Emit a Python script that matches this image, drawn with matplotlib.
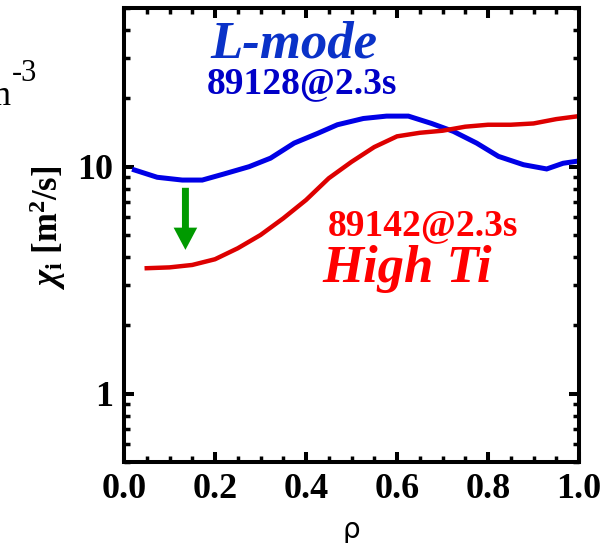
import matplotlib
matplotlib.use("Agg")
import matplotlib.pyplot as plt
from matplotlib.ticker import FixedLocator, FixedFormatter, LogLocator, NullFormatter, MultipleLocator

# Ion heat diffusivity profiles
rho_lmode = [0.023, 0.073, 0.128, 0.172, 0.22, 0.275, 0.322, 0.374, 0.425, 0.469,
             0.526, 0.577, 0.625, 0.676, 0.724, 0.775, 0.823, 0.878, 0.929, 0.965, 1.0]
chi_lmode = [9.67, 8.98, 8.73, 8.73, 9.29, 10.0, 10.9, 12.7, 14.0, 15.3,
             16.3, 16.7, 16.7, 15.5, 14.3, 12.7, 11.1, 10.2, 9.77, 10.35, 10.6]

rho_highti = [0.05, 0.10, 0.15, 0.20, 0.25, 0.30, 0.35, 0.40, 0.45, 0.50,
              0.55, 0.60, 0.65, 0.70, 0.75, 0.80, 0.85, 0.90, 0.95, 1.0]
chi_highti = [3.57, 3.60, 3.69, 3.91, 4.37, 5.0, 5.92, 7.13, 8.89, 10.5,
              12.2, 13.6, 14.1, 14.4, 15.0, 15.3, 15.3, 15.5, 16.2, 16.7]

x_ticks = [0.0, 0.2, 0.4, 0.6, 0.8, 1.0]
x_tick_labels = ["0.0", "0.2", "0.4", "0.6", "0.8", "1.0"]
y_ticks = [1, 10]
y_tick_labels = ["1", "10"]

# arrow marking the drop in chi_i near the core
arrow_rho = 0.135
arrow_from = 8.07
arrow_to = 4.3

plt.rcParams["font.family"] = ["Liberation Serif", "DejaVu Serif"]
plt.rcParams["font.weight"] = "bold"
plt.rcParams["mathtext.fontset"] = "custom"
plt.rcParams["mathtext.rm"] = "Liberation Serif:bold"
plt.rcParams["mathtext.it"] = "Liberation Serif:italic:bold"
plt.rcParams["mathtext.bf"] = "Liberation Serif:bold"

fig = plt.figure(figsize=(6.15, 5.43), dpi=100)
ax = fig.add_axes([124 / 615, 81 / 543, 455 / 615, 454 / 543])

blue = "#0000e6"
red = "#dd0000"
ax.plot(rho_lmode, chi_lmode, color=blue, lw=3.6, solid_joinstyle="miter")
ax.plot(rho_highti, chi_highti, color=red, lw=3.2, solid_joinstyle="miter")

ax.annotate("", xy=(arrow_rho, arrow_to), xytext=(arrow_rho, arrow_from),
            arrowprops=dict(width=5, headwidth=17, headlength=16, shrink=0,
                            color="#009a00", lw=0))

ax.set_yscale("log")
ax.set_xlim(0.0, 1.0)
ax.set_ylim(0.5, 50)

ax.xaxis.set_major_locator(FixedLocator(x_ticks))
ax.xaxis.set_major_formatter(FixedFormatter(x_tick_labels))
ax.xaxis.set_minor_locator(MultipleLocator(0.05))
ax.yaxis.set_major_locator(FixedLocator(y_ticks))
ax.yaxis.set_major_formatter(FixedFormatter(y_tick_labels))
ax.yaxis.set_minor_locator(LogLocator(base=10, subs=[2, 3, 4, 5, 6, 7, 8, 9]))
ax.yaxis.set_minor_formatter(NullFormatter())

for s in ax.spines.values():
    s.set_linewidth(2.9)
ax.tick_params(which="both", direction="in", top=True, right=True,
               labelsize=26, pad=8)
ax.tick_params(which="major", length=7.2, width=2.9)
ax.tick_params(which="minor", length=4.3, width=2.5)

ax.set_xlabel("ρ", family="DejaVu Sans", fontweight="normal", fontsize=20, labelpad=7)
fig.text(48 / 615, 1 - 228 / 543, r"$\chi_\mathregular{i}$ [m$^\mathregular{2}$/s]",
         rotation=90, ha="center", va="center", fontsize=25)

ax.text(0.189, 0.892, "L-mode", transform=ax.transAxes, color="#0a32c8",
        fontsize=38, fontstyle="italic", fontweight="bold", ha="left", va="baseline")
ax.text(0.182, 0.813, "89128@2.3s", transform=ax.transAxes, color="#0000c8",
        fontsize=27, fontweight="bold", ha="left", va="baseline")
ax.text(0.448, 0.500, "89142@2.3s", transform=ax.transAxes, color="#ff0000",
        fontsize=27, fontweight="bold", ha="left", va="baseline")
ax.text(0.437, 0.396, "High Ti", transform=ax.transAxes, color="#ff0000",
        fontsize=38, fontstyle="italic", fontweight="bold", ha="left", va="baseline")

# unit label of the neighbouring panel, cut by the left edge
fig.text(10 / 615, 1 - 105 / 543, "m", ha="right", va="baseline",
         fontsize=25, fontweight="normal")
fig.text(12 / 615, 1 - 81 / 543, "-3", ha="left", va="baseline",
         fontsize=22, fontweight="normal")

fig.savefig("out.png", dpi=100)
